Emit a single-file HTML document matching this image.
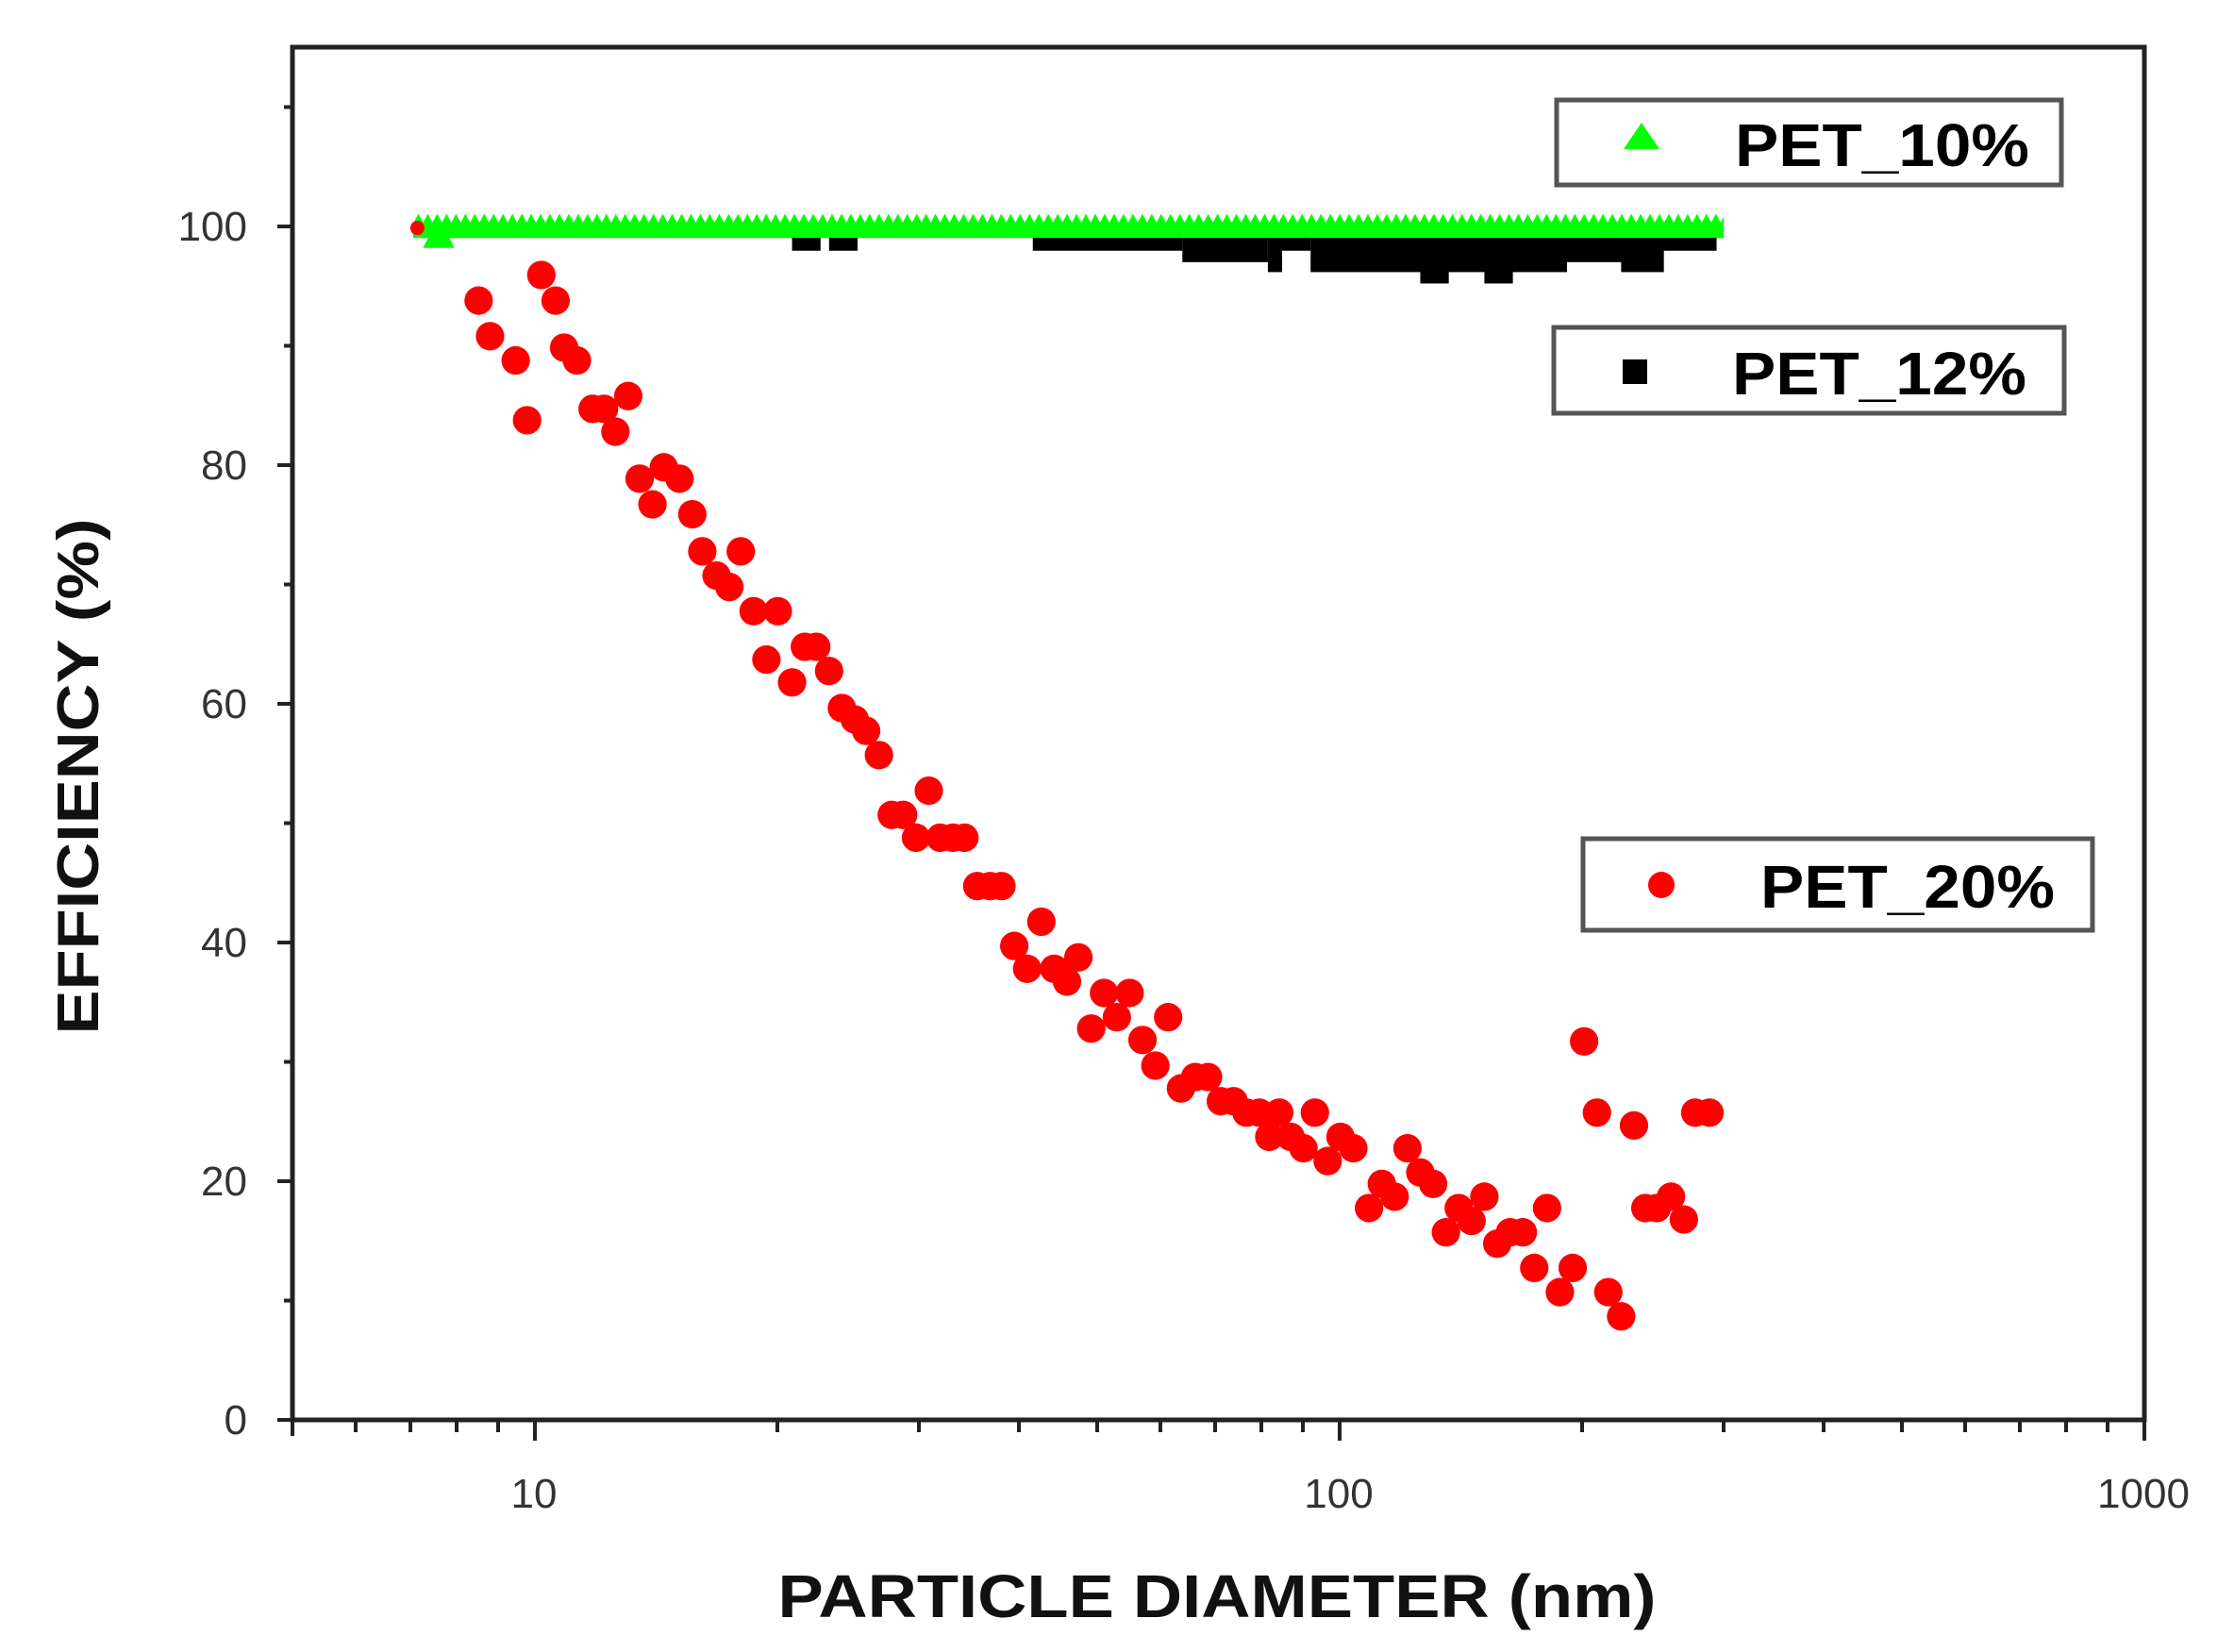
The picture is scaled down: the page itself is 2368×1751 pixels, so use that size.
<!DOCTYPE html>
<html><head><meta charset="utf-8"><style>
html,body{margin:0;padding:0;background:#fff;}
svg{display:block;}
text{font-family:"Liberation Sans",sans-serif;}
</style></head><body>
<svg width="2368" height="1751" viewBox="0 0 2368 1751" xmlns="http://www.w3.org/2000/svg">
<defs>
<pattern id="tri" x="0" y="150" width="6.6" height="18" patternUnits="userSpaceOnUse">
<polygon points="3.3,0 7.5,8 -0.9,8" fill="#00ff00"/>
<rect x="0" y="6" width="6.6" height="12" fill="#00ff00"/>
</pattern>
</defs>
<rect width="2368" height="1751" fill="#fff"/>
<g transform="scale(1.51)">
<g fill="#000">
<rect x="295" y="159" width="915" height="8"/>
<rect x="556" y="165" width="20" height="11"/>
<rect x="582" y="165" width="20" height="11"/>
<rect x="725" y="165" width="105" height="11"/>
<rect x="830" y="165" width="60" height="19"/>
<rect x="890" y="165" width="10" height="26"/>
<rect x="900" y="165" width="20" height="11"/>
<rect x="920" y="165" width="180" height="26"/>
<rect x="997" y="185" width="20" height="14"/>
<rect x="1042" y="185" width="20" height="14"/>
<rect x="1100" y="165" width="45" height="19"/>
<rect x="1138" y="165" width="30" height="26"/>
<rect x="1165" y="165" width="40" height="11"/>
</g>
<rect x="290" y="150" width="920" height="17" fill="url(#tri)"/>
<polygon points="308,152 319,174 297,174" fill="#00ff00"/>
<g fill="#ff0000">
<circle cx="293" cy="160" r="5"/>
<circle cx="336" cy="211" r="10"/><circle cx="344" cy="236" r="10"/><circle cx="362" cy="253" r="10"/><circle cx="370" cy="295" r="10"/><circle cx="380" cy="193" r="10"/><circle cx="390" cy="211" r="10"/><circle cx="396" cy="244" r="10"/><circle cx="405" cy="253" r="10"/><circle cx="416" cy="287" r="10"/><circle cx="424" cy="287" r="10"/><circle cx="432" cy="303" r="10"/><circle cx="441" cy="278" r="10"/><circle cx="449" cy="336" r="10"/><circle cx="458" cy="354" r="10"/><circle cx="466" cy="328" r="10"/><circle cx="477" cy="336" r="10"/><circle cx="486" cy="361" r="10"/><circle cx="493" cy="387" r="10"/><circle cx="503" cy="404" r="10"/><circle cx="512" cy="412" r="10"/><circle cx="520" cy="387" r="10"/><circle cx="529" cy="429" r="10"/><circle cx="538" cy="463" r="10"/><circle cx="546" cy="429" r="10"/><circle cx="556" cy="479" r="10"/><circle cx="565" cy="454" r="10"/><circle cx="573" cy="454" r="10"/><circle cx="582" cy="471" r="10"/><circle cx="591" cy="497" r="10"/><circle cx="600" cy="505" r="10"/><circle cx="608" cy="513" r="10"/><circle cx="617" cy="530" r="10"/><circle cx="626" cy="572" r="10"/><circle cx="634" cy="572" r="10"/><circle cx="643" cy="588" r="10"/><circle cx="652" cy="555" r="10"/><circle cx="660" cy="588" r="10"/><circle cx="669" cy="588" r="10"/><circle cx="677" cy="588" r="10"/><circle cx="686" cy="622" r="10"/><circle cx="695" cy="622" r="10"/><circle cx="703" cy="622" r="10"/><circle cx="712" cy="664" r="10"/><circle cx="721" cy="680" r="10"/><circle cx="731" cy="647" r="10"/><circle cx="740" cy="680" r="10"/><circle cx="749" cy="689" r="10"/><circle cx="757" cy="672" r="10"/><circle cx="766" cy="722" r="10"/><circle cx="775" cy="697" r="10"/><circle cx="784" cy="714" r="10"/><circle cx="793" cy="697" r="10"/><circle cx="802" cy="730" r="10"/><circle cx="811" cy="748" r="10"/><circle cx="820" cy="714" r="10"/><circle cx="829" cy="764" r="10"/><circle cx="839" cy="756" r="10"/><circle cx="848" cy="756" r="10"/><circle cx="857" cy="773" r="10"/><circle cx="866" cy="773" r="10"/><circle cx="875" cy="781" r="10"/><circle cx="884" cy="781" r="10"/><circle cx="891" cy="798" r="10"/><circle cx="898" cy="781" r="10"/><circle cx="906" cy="798" r="10"/><circle cx="915" cy="806" r="10"/><circle cx="923" cy="781" r="10"/><circle cx="932" cy="815" r="10"/><circle cx="941" cy="798" r="10"/><circle cx="950" cy="806" r="10"/><circle cx="961" cy="848" r="10"/><circle cx="970" cy="831" r="10"/><circle cx="979" cy="840" r="10"/><circle cx="988" cy="806" r="10"/><circle cx="997" cy="823" r="10"/><circle cx="1006" cy="831" r="10"/><circle cx="1015" cy="865" r="10"/><circle cx="1024" cy="848" r="10"/><circle cx="1033" cy="857" r="10"/><circle cx="1042" cy="840" r="10"/><circle cx="1051" cy="873" r="10"/><circle cx="1060" cy="865" r="10"/><circle cx="1069" cy="865" r="10"/><circle cx="1077" cy="890" r="10"/><circle cx="1086" cy="848" r="10"/><circle cx="1095" cy="907" r="10"/><circle cx="1104" cy="890" r="10"/><circle cx="1112" cy="731" r="10"/><circle cx="1121" cy="781" r="10"/><circle cx="1129" cy="907" r="10"/><circle cx="1138" cy="924" r="10"/><circle cx="1147" cy="790" r="10"/><circle cx="1155" cy="848" r="10"/><circle cx="1163" cy="848" r="10"/><circle cx="1173" cy="840" r="10"/><circle cx="1182" cy="856" r="10"/><circle cx="1190" cy="781" r="10"/><circle cx="1200" cy="781" r="10"/>
</g>
</g>
<rect x="310" y="50" width="1963" height="1455" fill="none" stroke="#222" stroke-width="5"/>
<g stroke="#222" stroke-width="4">
<line x1="310" y1="1505" x2="294" y2="1505"/><line x1="310" y1="1252" x2="294" y2="1252"/><line x1="310" y1="999" x2="294" y2="999"/><line x1="310" y1="746" x2="294" y2="746"/><line x1="310" y1="493" x2="294" y2="493"/><line x1="310" y1="240" x2="294" y2="240"/>
<line x1="310" y1="1378.5" x2="301" y2="1378.5"/><line x1="310" y1="1125.5" x2="301" y2="1125.5"/><line x1="310" y1="872.5" x2="301" y2="872.5"/><line x1="310" y1="619.5" x2="301" y2="619.5"/><line x1="310" y1="366.5" x2="301" y2="366.5"/><line x1="310" y1="113.5" x2="301" y2="113.5"/>
<line x1="310" y1="1505" x2="310" y2="1522"/>
<line x1="377" y1="1505" x2="377" y2="1518"/><line x1="435" y1="1505" x2="435" y2="1518"/><line x1="484" y1="1505" x2="484" y2="1518"/><line x1="528" y1="1505" x2="528" y2="1518"/>
<line x1="567" y1="1505" x2="567" y2="1527"/>
<line x1="824" y1="1505" x2="824" y2="1518"/><line x1="974" y1="1505" x2="974" y2="1518"/><line x1="1080" y1="1505" x2="1080" y2="1518"/><line x1="1163" y1="1505" x2="1163" y2="1518"/><line x1="1230" y1="1505" x2="1230" y2="1518"/><line x1="1288" y1="1505" x2="1288" y2="1518"/><line x1="1337" y1="1505" x2="1337" y2="1518"/><line x1="1381" y1="1505" x2="1381" y2="1518"/>
<line x1="1420" y1="1505" x2="1420" y2="1527"/>
<line x1="1677" y1="1505" x2="1677" y2="1518"/><line x1="1827" y1="1505" x2="1827" y2="1518"/><line x1="1933" y1="1505" x2="1933" y2="1518"/><line x1="2016" y1="1505" x2="2016" y2="1518"/><line x1="2083" y1="1505" x2="2083" y2="1518"/><line x1="2141" y1="1505" x2="2141" y2="1518"/><line x1="2190" y1="1505" x2="2190" y2="1518"/><line x1="2234" y1="1505" x2="2234" y2="1518"/>
<line x1="2273" y1="1505" x2="2273" y2="1527"/>
</g>
<g font-size="44" fill="#333" text-anchor="end">
<text x="262" y="1520">0</text><text x="262" y="1267">20</text><text x="262" y="1014">40</text><text x="262" y="761">60</text><text x="262" y="508">80</text><text x="262" y="255">100</text>
</g>
<g font-size="44" fill="#333" text-anchor="middle">
<text x="566" y="1598">10</text><text x="1419" y="1598">100</text><text x="2272" y="1598">1000</text>
</g>
<text x="0" y="0" font-size="62" font-weight="bold" fill="#111" text-anchor="middle" transform="translate(104,823) rotate(-90)" textLength="547" lengthAdjust="spacingAndGlyphs">EFFICIENCY (%)</text>
<text x="1290" y="1714" font-size="64" font-weight="bold" fill="#111" text-anchor="middle" textLength="931" lengthAdjust="spacingAndGlyphs">PARTICLE DIAMETER (nm)</text>
<g fill="#fff" stroke="#555" stroke-width="5">
<rect x="1650" y="106" width="535" height="90"/>
<rect x="1647" y="347" width="541" height="91"/>
<rect x="1678" y="889" width="540" height="97"/>
</g>
<polygon points="1740,130 1759,158 1721,158" fill="#00ff00"/>
<rect x="1720" y="381" width="26" height="26" fill="#000"/>
<circle cx="1761" cy="938" r="14" fill="#ff0000"/>
<g font-size="64" font-weight="bold" fill="#000">
<text x="1839" y="176" textLength="312" lengthAdjust="spacingAndGlyphs">PET_10%</text>
<text x="1836" y="418" textLength="312" lengthAdjust="spacingAndGlyphs">PET_12%</text>
<text x="1866" y="962" textLength="312" lengthAdjust="spacingAndGlyphs">PET_20%</text>
</g>
</svg>
</body></html>
